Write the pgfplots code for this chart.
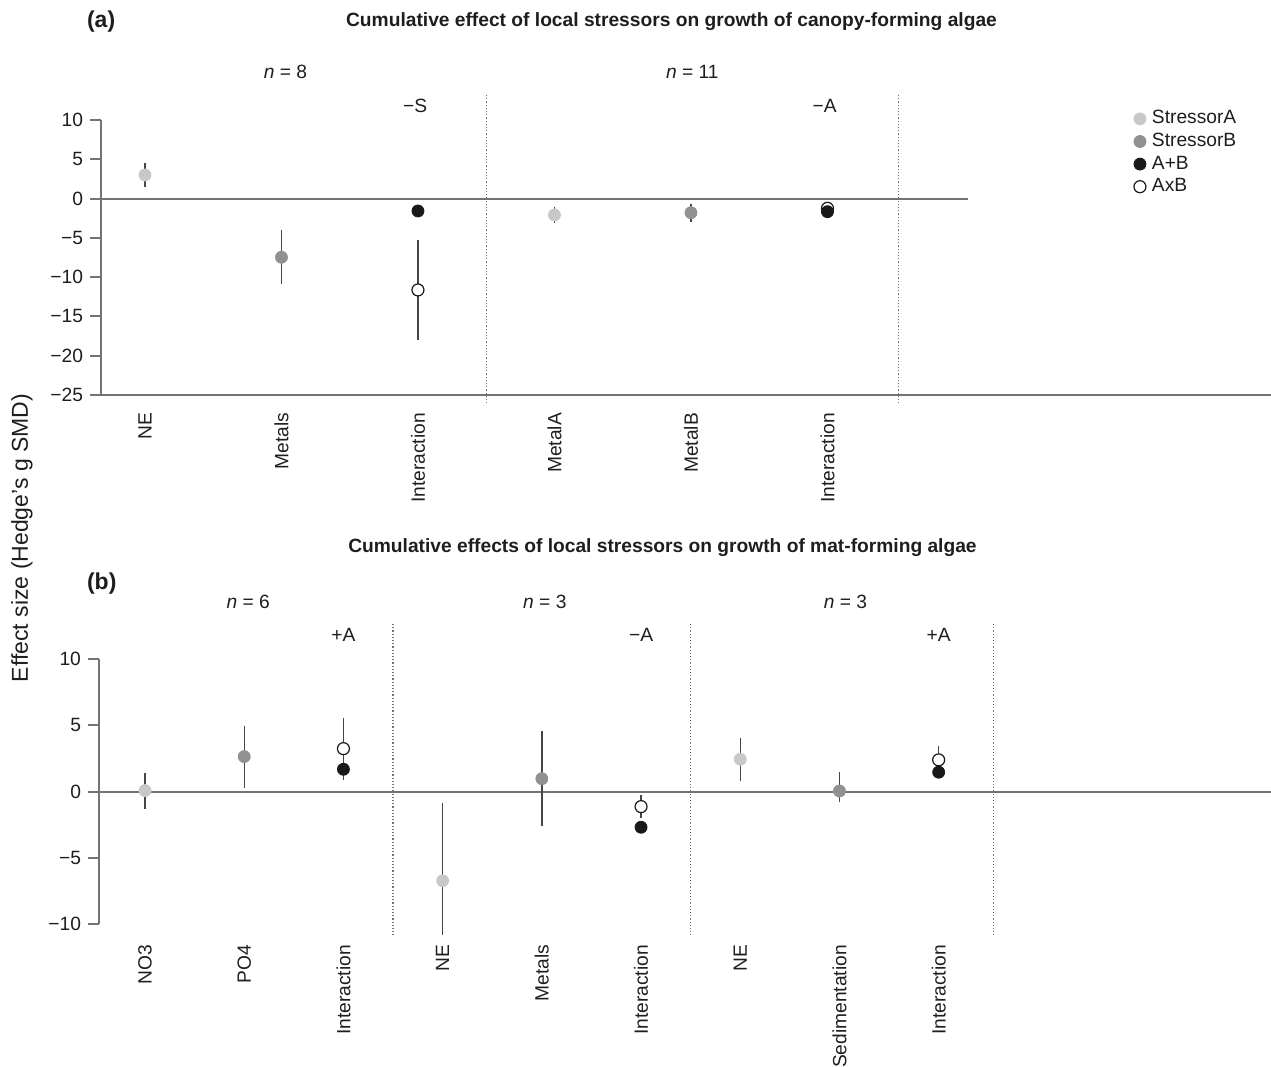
\documentclass[border=0pt]{standalone}
\usepackage{fontspec}
\setmainfont{Liberation Sans}
\usepackage{pgfplots}
\pgfplotsset{compat=1.18}
\definecolor{colA}{RGB}{200,200,200}
\definecolor{colB}{RGB}{145,145,145}
\definecolor{colAB}{RGB}{25,25,25}
\definecolor{lineg}{RGB}{115,115,115}
\definecolor{errg}{RGB}{70,70,70}
\definecolor{txt}{RGB}{30,30,30}
\newcommand{\fs}{\fontsize{9.6}{11.5}\selectfont}
\tikzset{ann/.style={font=\fs, text=txt}}
\pgfplotsset{
  mystyle/.style={
    scale only axis, clip=false,
    axis y line*=left, axis x line*=bottom,
    axis line style={draw=lineg, line width=1pt},
    tick align=outside,
    major tick length=5.5pt,
    tick style={draw=lineg, line width=1pt},
    major x tick style={draw=none},
    tick label style={font=\fs, text=txt},
    xticklabel style={rotate=90, anchor=east},
  },
  sA/.style={only marks, mark=*, mark size=3pt, mark options={draw=colA, fill=colA}},
  sB/.style={only marks, mark=*, mark size=3pt, mark options={draw=colB, fill=colB}},
  sAB/.style={only marks, mark=*, mark size=3pt, mark options={draw=colAB, fill=colAB}},
  sAxB/.style={only marks, mark=*, mark size=3pt, mark options={draw=colAB, fill=white, line width=0.6pt}},
  eb/.style={draw=none, mark=none, forget plot, error bars/.cd, y dir=both, y explicit, error mark=none, error bar style={draw=errg, line width=0.7pt}},
}
\begin{document}
\begin{tikzpicture}
\path[use as bounding box] (0,0) rectangle (635.5pt,533.5pt);

% ---------- Panel (a) ----------
\begin{axis}[mystyle,
  at={(50.5pt,336pt)}, anchor=south west,
  width=585pt, height=137.5pt,
  xmin=0.678, xmax=9.249, ymin=-25, ymax=10,
  ytick={-25,-20,-15,-10,-5,0,5,10},
  yticklabels={−25,−20,−15,−10,−5,0,5,10},
  xtick={1,2,3,4,5,6},
  xticklabels={NE,Metals,Interaction,MetalA,MetalB,Interaction},
  legend style={at={(0.874,1.06)}, anchor=north west, draw=none, fill=none,
    font=\fs, text=txt, row sep=0.3pt,
    nodes={inner sep=1pt, text height=7pt, text depth=2pt}},
  legend cell align=left,
  legend image code/.code={\path[draw=none, fill=none] (0pt,-1pt) rectangle (10pt,1pt);
    \draw[mark repeat=2,mark phase=2,#1] plot coordinates {(0pt,0pt) (5pt,0pt) (10pt,0pt)};},
]
\addplot[lineg, line width=1pt, forget plot] coordinates {(0.678,0) (7.03,0)};
\addplot[lineg, densely dotted, line width=0.6pt, forget plot] coordinates {(3.5,13.18) (3.5,-26.27)};
\addplot[lineg, densely dotted, line width=0.6pt, forget plot] coordinates {(6.52,13.18) (6.52,-26.27)};
\addplot[sA] coordinates {(1,3.0) (4,-2.09)};
\addplot[sB] coordinates {(2,-7.47) (5,-1.8)};
\addlegendimage{sAB}
\addplot[sAxB] coordinates {(3,-11.63) (6,-1.24)};
\addplot[sAB, forget plot] coordinates {(3,-1.58) (6,-1.67)};
\addplot[eb] coordinates {
  (1,3.0) += (0,1.57) -= (0,1.57)
  (2,-7.47) += (0,3.41) -= (0,3.4)
  (3,-11.63) += (0,6.36) -= (0,6.36)
  (4,-2.09) += (0,1.0) -= (0,1.0)
  (5,-1.8) += (0,1.1) -= (0,1.14)
  (6,-1.24) += (0,0.85) -= (0,0.85)
};
\legend{StressorA,StressorB,A+B,AxB}
\node[ann] at (axis cs:2.03,16.1) {\textit{n} = 8};
\node[ann] at (axis cs:5.01,16.1) {\textit{n} = 11};
\node[ann] at (axis cs:2.98,11.8) {−S};
\node[ann] at (axis cs:5.98,11.8) {−A};
\end{axis}

% ---------- Panel (b) ----------
\begin{axis}[mystyle,
  at={(49.5pt,71.5pt)}, anchor=south west,
  width=586pt, height=132.35pt,
  xmin=0.536, xmax=12.35, ymin=-10, ymax=10,
  x axis line style={draw=none},
  ytick={-10,-5,0,5,10},
  yticklabels={−10,−5,0,5,10},
  xtick={1,2,3,4,5,6,7,8,9},
  xticklabels={NO3,PO4,Interaction,NE,Metals,Interaction,NE,Sedimentation,Interaction},
  xticklabel style={xshift=-1.5pt},
]
\addplot[lineg, line width=1pt] coordinates {(0.536,0) (12.35,0)};
\addplot[lineg, densely dotted, line width=0.6pt] coordinates {(3.5,12.67) (3.5,-10.83)};
\addplot[lineg, densely dotted, line width=0.6pt] coordinates {(6.5,12.67) (6.5,-10.83)};
\addplot[lineg, densely dotted, line width=0.6pt] coordinates {(9.55,12.67) (9.55,-10.83)};
\addplot[sA] coordinates {(1,0.08) (4,-6.73) (7,2.45)};
\addplot[sB] coordinates {(2,2.65) (5,0.98) (8,0.05)};
\addplot[sAxB] coordinates {(3,3.25) (6,-1.13) (9,2.4)};
\addplot[sAB] coordinates {(3,1.69) (6,-2.69) (9,1.47)};
\addplot[eb] coordinates {
  (1,0.08) += (0,1.31) -= (0,1.36)
  (2,2.65) += (0,2.32) -= (0,2.35)
  (3,3.25) += (0,2.35) -= (0,2.37)
  (4,-6.73) += (0,5.9) -= (0,4.07)
  (5,0.98) += (0,3.61) -= (0,3.57)
  (6,-1.13) += (0,0.88) -= (0,0.88)
  (7,2.45) += (0,1.58) -= (0,1.65)
  (8,0.05) += (0,1.46) -= (0,0.81)
  (9,2.4) += (0,1.05) -= (0,1.05)
};
\node[ann] at (axis cs:2.04,14.36) {\textit{n} = 6};
\node[ann] at (axis cs:5.03,14.36) {\textit{n} = 3};
\node[ann] at (axis cs:8.06,14.36) {\textit{n} = 3};
\node[ann] at (axis cs:3.0,11.84) {+A};
\node[ann] at (axis cs:6.0,11.84) {−A};
\node[ann] at (axis cs:9.0,11.84) {+A};
\end{axis}

% ---------- Titles and labels ----------
\node[anchor=west, font=\fontsize{11.5}{13}\selectfont\bfseries, text=txt] at (40pt,522.5pt) {(a)};
\node[font=\fs\bfseries, text=txt] at (335.75pt,522.5pt) {Cumulative effect of local stressors on growth of canopy-forming algae};
\node[anchor=west, font=\fontsize{11.5}{13}\selectfont\bfseries, text=txt] at (40pt,241.5pt) {(b)};
\node[font=\fs\bfseries, text=txt] at (331.25pt,259.5pt) {Cumulative effects of local stressors on growth of mat-forming algae};
\node[rotate=90, font=\fontsize{11.5}{13}\selectfont, text=txt] at (11pt,264.5pt) {Effect size (Hedge's g SMD)};
\end{tikzpicture}
\end{document}
